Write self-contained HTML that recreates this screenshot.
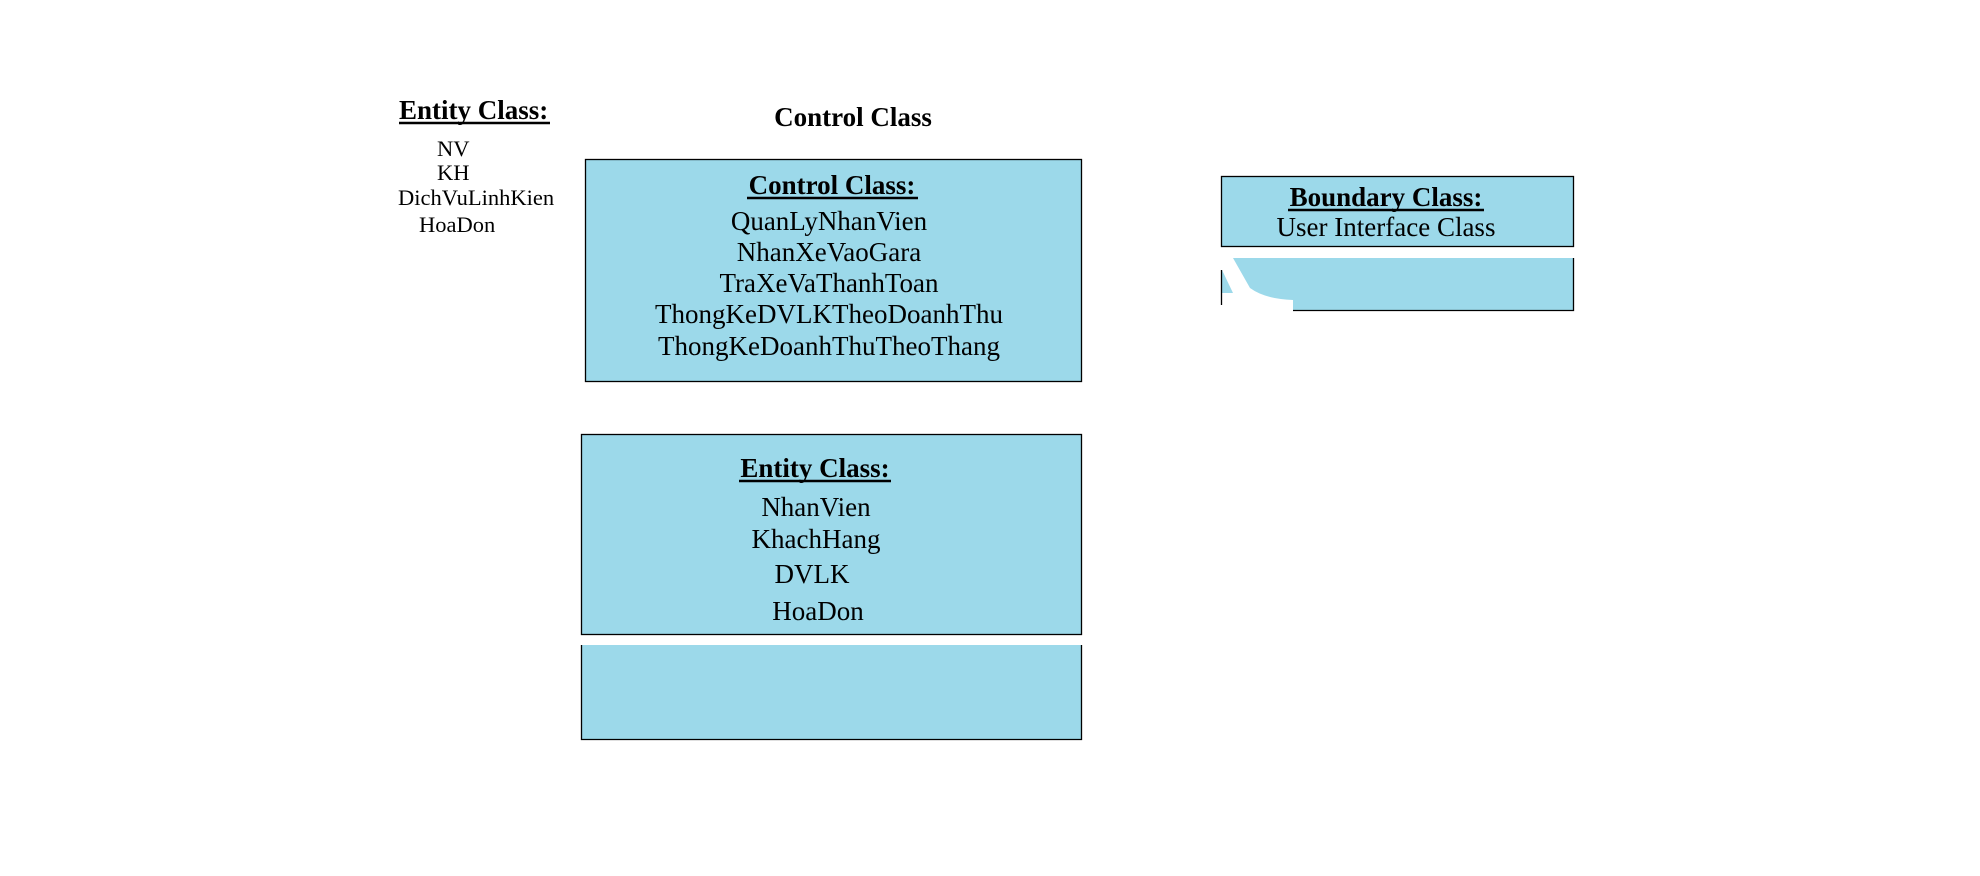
<!DOCTYPE html>
<html><head><meta charset="utf-8"><style>
html,body{margin:0;padding:0;background:#fff;width:1980px;height:876px;overflow:hidden}
svg text{font-family:"Liberation Serif",serif;fill:#000}
</style></head><body>
<svg width="1980" height="876" viewBox="0 0 1980 876" xmlns="http://www.w3.org/2000/svg">
<rect x="585.5" y="159.5" width="496" height="222" fill="#9cd9ea" stroke="#000" stroke-width="1.3"/>
<rect x="581.5" y="434.5" width="500" height="200" fill="#9cd9ea" stroke="#000" stroke-width="1.3"/>
<rect x="581" y="645" width="501" height="95" fill="#9cd9ea"/>
<path d="M581.5 645 V739.5 H1081.5 V645" fill="none" stroke="#000" stroke-width="1.3"/>
<rect x="1221.5" y="176.5" width="352" height="70" fill="#9cd9ea" stroke="#000" stroke-width="1.3"/>
<rect x="1221" y="258" width="353" height="53" fill="#9cd9ea"/>
<path d="M1221 258 H1233 L1250 288 Q1265 299 1293 300 V312 H1221 Z" fill="#fff"/>
<path d="M1222 270 L1233 293 L1222 293 Z" fill="#9cd9ea"/>
<path d="M1573.5 258 V310.5 H1293" fill="none" stroke="#000" stroke-width="1.3"/>
<path d="M1221.5 270 V305" fill="none" stroke="#000" stroke-width="1.3"/>

<text x="399" y="119" font-size="27" font-weight="bold">Entity Class:</text>
<text x="853" y="126" font-size="27" font-weight="bold" text-anchor="middle">Control Class</text>
<g font-size="22.5">
<text x="437" y="156">NV</text>
<text x="437" y="180">KH</text>
<text x="398" y="205">DichVuLinhKien</text>
<text x="419" y="232">HoaDon</text>
</g>
<g font-size="27" text-anchor="middle">
<text x="832" y="194" font-weight="bold">Control Class:</text>
<text x="829" y="230">QuanLyNhanVien</text>
<text x="829" y="261">NhanXeVaoGara</text>
<text x="829" y="292">TraXeVaThanhToan</text>
<text x="829" y="323">ThongKeDVLKTheoDoanhThu</text>
<text x="829" y="355">ThongKeDoanhThuTheoThang</text>
<text x="815" y="477" font-weight="bold">Entity Class:</text>
<text x="816" y="516">NhanVien</text>
<text x="816" y="548">KhachHang</text>
<text x="812" y="583">DVLK</text>
<text x="818" y="620">HoaDon</text>
<text x="1386" y="206" font-weight="bold">Boundary Class:</text>
<text x="1386" y="236">User Interface Class</text>
</g>
<g stroke="#000" stroke-width="2.5">
<line x1="399" y1="123" x2="550" y2="123"/>
<line x1="747" y1="198" x2="918" y2="198"/>
<line x1="739" y1="481" x2="891" y2="481"/>
<line x1="1288" y1="210" x2="1484" y2="210"/>
</g>
</svg>
</body></html>
